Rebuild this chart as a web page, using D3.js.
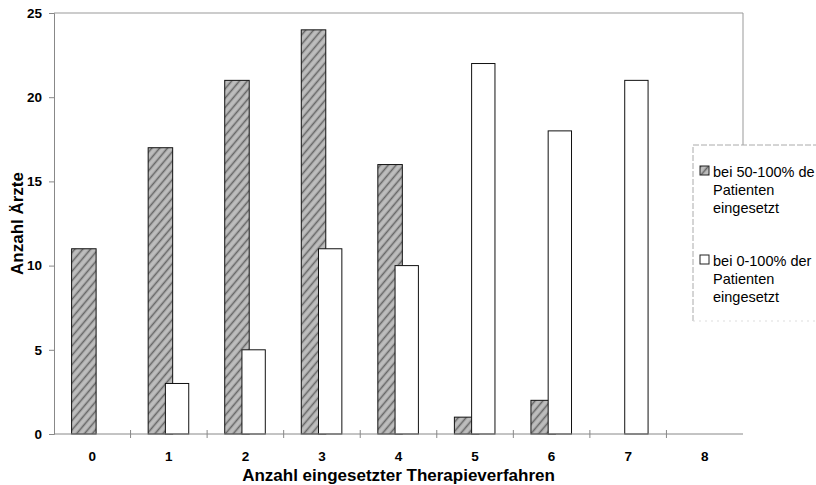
<!DOCTYPE html>
<html><head><meta charset="utf-8">
<script src="https://cdn.jsdelivr.net/npm/d3@7"></script>
<style>body{margin:0;background:#fff;overflow:hidden}svg{display:block}</style>
</head><body>
<svg id="c" width="816" height="485"></svg>
<script>
const categories = ["0","1","2","3","4","5","6","7","8"];
const seriesNames = ["bei 50-100% der Patienten eingesetzt", "bei 0-100% der Patienten eingesetzt"];
const values50 = [11, 17, 21, 24, 16, 1, 2, 0, 0];
const values0 = [0, 3, 5, 11, 10, 22, 18, 21, 0];
const yTicks = [0, 5, 10, 15, 20, 25];
const xTitle = "Anzahl eingesetzter Therapieverfahren";
const yTitle = "Anzahl Ärzte";
// legend text as visible in the reference (first line is cut at the page edge there)
const legendLines = [["bei 50-100% de", "Patienten", "eingesetzt"], ["bei 0-100% der", "Patienten", "eingesetzt"]];

const svg = d3.select("#c");
const L = 54, R = 743, T = 13, B = 434;
const x = d3.scaleBand().domain(categories).range([L, R]).padding(0);
const y = d3.scaleLinear().domain([0, 25]).range([B, T]);
const FONT = "Arial, 'Liberation Sans', sans-serif";

const defs = svg.append("defs");
const pat = defs.append("pattern").attr("id", "hatch").attr("patternUnits", "userSpaceOnUse")
  .attr("width", 6).attr("height", 6).attr("patternTransform", "rotate(40)");
pat.append("rect").attr("width", 6).attr("height", 6).attr("fill", "#bdbdbd");
pat.append("line").attr("x1", 1.5).attr("y1", 0).attr("x2", 1.5).attr("y2", 6).attr("stroke", "#666").attr("stroke-width", 1.6);

// frame
svg.append("line").attr("x1", L).attr("x2", R).attr("y1", T).attr("y2", T).attr("stroke", "#999").attr("stroke-width", 1);
svg.append("line").attr("x1", R).attr("x2", R).attr("y1", T).attr("y2", 145).attr("stroke", "#999").attr("stroke-width", 1);

const bw = x.bandwidth();
// hatched bars
svg.append("g").selectAll("rect").data(values50.map((v, i) => ({c: categories[i], v})).filter(d => d.v > 0))
  .join("rect")
  .attr("x", d => x(d.c) + bw * 0.23).attr("width", bw * 0.32)
  .attr("y", d => y(d.v)).attr("height", d => B - y(d.v))
  .attr("fill", "url(#hatch)").attr("stroke", "#111").attr("stroke-width", 1);
// white bars
svg.append("g").selectAll("rect").data(values0.map((v, i) => ({c: categories[i], v})).filter(d => d.v > 0))
  .join("rect")
  .attr("x", d => x(d.c) + bw * 0.455).attr("width", bw * 0.305)
  .attr("y", d => y(d.v)).attr("height", d => B - y(d.v))
  .attr("fill", "#fff").attr("stroke", "#111").attr("stroke-width", 1);

// y axis
const ya = svg.append("g").attr("transform", `translate(${L},0)`)
  .call(d3.axisLeft(y).tickValues(yTicks).tickSize(5).tickPadding(7).tickFormat(d3.format("d")));
ya.select(".domain").attr("stroke", "#888");
ya.selectAll(".tick line").attr("stroke", "#888");
ya.selectAll("text").attr("font-family", FONT).attr("font-weight", "bold").attr("font-size", 13.5).attr("fill", "#000");

// x axis
svg.append("line").attr("x1", L).attr("x2", R).attr("y1", B).attr("y2", B).attr("stroke", "#888");
svg.append("g").selectAll("line").data(categories.slice(1))
  .join("line")
  .attr("x1", d => x(d)).attr("x2", d => x(d)).attr("y1", B - 4).attr("y2", B + 4).attr("stroke", "#888");
svg.append("g").selectAll("text").data(categories).join("text")
  .attr("x", d => x(d) + bw / 2).attr("y", 461)
  .attr("text-anchor", "middle")
  .attr("font-family", FONT).attr("font-weight", "bold").attr("font-size", 13.5)
  .text(d => d);

svg.append("text").attr("x", (L + R) / 2).attr("y", 481).attr("text-anchor", "middle")
  .attr("font-family", FONT).attr("font-weight", "bold").attr("font-size", 17)
  .text(xTitle);
svg.append("text").attr("transform", `translate(23,${(T + B) / 2}) rotate(-90)`).attr("text-anchor", "middle")
  .attr("font-family", FONT).attr("font-weight", "bold").attr("font-size", 17)
  .text(yTitle);

// legend
const lg = svg.append("g");
lg.append("path").attr("d", "M693,321 L693,145 L816,145").attr("fill", "none").attr("stroke", "#aaa").attr("stroke-dasharray", "6,2");
lg.append("line").attr("x1", 693).attr("x2", 816).attr("y1", 321).attr("y2", 321).attr("stroke", "#ddd").attr("stroke-dasharray", "2,4");
const fills = ["url(#hatch)", "#fff"];
const rowY = [172, 261];
legendLines.forEach((lines, i) => {
  lg.append("rect").attr("x", 700).attr("y", rowY[i] - 6).attr("width", 9).attr("height", 9)
    .attr("fill", fills[i]).attr("stroke", "#222");
  lines.forEach((t, j) => {
    lg.append("text").attr("x", 713).attr("y", rowY[i] + 5 + j * 18)
      .attr("font-family", FONT).attr("font-size", 14.5)
      .text(t);
  });
});
</script>
</body></html>
